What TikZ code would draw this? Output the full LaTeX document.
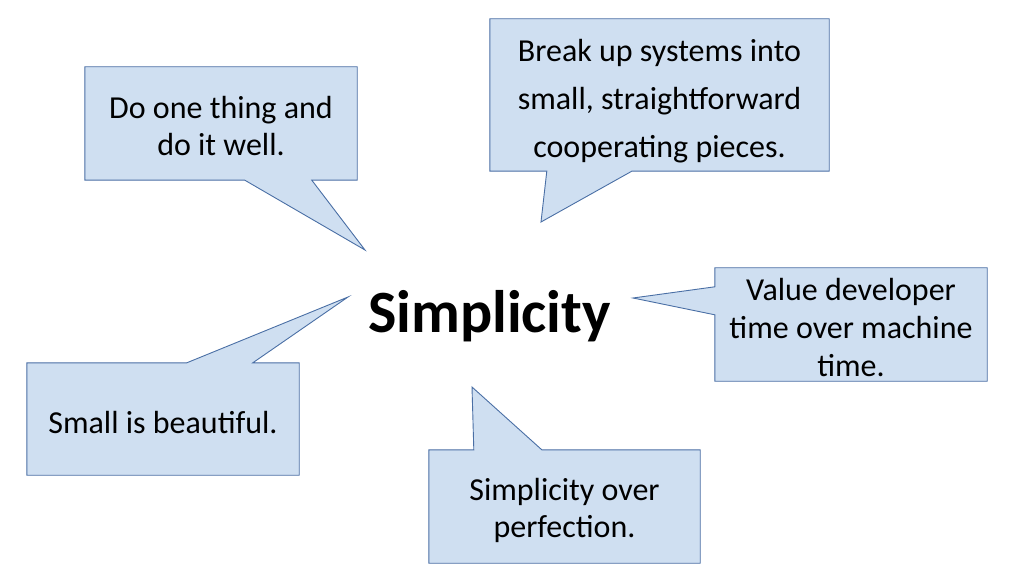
\documentclass[tikz,border=0pt]{standalone}
\usepackage{fontspec}
\setmainfont{Carlito}
\usepackage{xcolor}
\usepackage{tikz}
\usetikzlibrary{backgrounds}
\definecolor{bubblefill}{HTML}{CFDFF1}
\definecolor{bubbleedge}{HTML}{4A6FA5}

\begin{document}
\begin{tikzpicture}[
	x=1pt, y=-1pt,
	box/.style = {
		inner sep=0pt
	},
	quote/.style = {
		inner sep=0pt,
		align=center,
		font=\fontsize{32}{37}\selectfont
	},
	outline/.style = {
		fill=bubblefill, draw=bubbleedge,
		line width=0.9pt, line join=miter
	},
	title/.style = {
		font=\fontsize{60}{70}\selectfont\bfseries
	}
]
	\useasboundingbox (0, 0) rectangle (1023, 588);
	\node[title] (core) at (489.5, 316) {Simplicity};
	% Do one thing
	\node[box, minimum width=272, minimum height=113] (one) at (221, 123.5) {};
	\node[quote] (onetext) at ([yshift=-2.5pt]one.center)
		{Do one thing and\\do it well.};
	\coordinate (onetip) at (365, 250);
	% Break up systems
	\node[box, minimum width=339, minimum height=152] (parts) at (659.5, 95) {};
	\node[quote, font=\fontsize{32}{48}\selectfont] (partstext)
		at ([yshift=-6.5pt]parts.center)
		{Break up systems into\\small, straightforward\\cooperating pieces.};
	\coordinate (partstip) at (541, 222);
	% Developer time
	\node[box, minimum width=272, minimum height=113] (dev) at (851, 324.5) {};
	\node[quote, font=\fontsize{32}{38}\selectfont] (devtext)
		at ([yshift=-3.5pt]dev.center)
		{Value developer\\time over machine\\time.};
	\coordinate (devtip) at (633, 298);
	% Small is beautiful
	\node[box, minimum width=272, minimum height=112] (small) at (163, 419) {};
	\node[quote] (smalltext) at ([yshift=-4pt]small.center) {Small is beautiful.};
	\coordinate (smalltip) at (348, 297);
	% Simplicity over perfection
	\node[box, minimum width=271, minimum height=113] (perf) at (564.5, 506.5) {};
	\node[quote] (perftext) at ([yshift=-4pt]perf.center)
		{Simplicity over\\perfection.};
	\coordinate (perftip) at (472, 387);
	% Outlines with tails
	\begin{scope}[on background layer]
		\draw[outline] (one.north west) -- (one.north east) -- (one.south east)
			-- ([xshift=227pt]one.south west) -- (onetip)
			-- ([xshift=160pt]one.south west) -- (one.south west) -- cycle;
		\draw[outline] (parts.north west) -- (parts.north east) -- (parts.south east)
			-- ([xshift=142pt]parts.south west) -- (partstip)
			-- ([xshift=57pt]parts.south west) -- (parts.south west) -- cycle;
		\draw[outline] (dev.north west) -- (dev.north east) -- (dev.south east)
			-- (dev.south west) -- ([yshift=-47pt]dev.north west) -- (devtip)
			-- ([yshift=-19pt]dev.north west) -- cycle;
		\draw[outline] (small.north west) -- ([xshift=160pt]small.north west)
			-- (smalltip) -- ([xshift=226pt]small.north west) -- (small.north east)
			-- (small.south east) -- (small.south west) -- cycle;
		\draw[outline] (perf.north west) -- ([xshift=45pt]perf.north west)
			-- (perftip) -- ([xshift=113pt]perf.north west) -- (perf.north east)
			-- (perf.south east) -- (perf.south west) -- cycle;
	\end{scope}
\end{tikzpicture}
\end{document}
